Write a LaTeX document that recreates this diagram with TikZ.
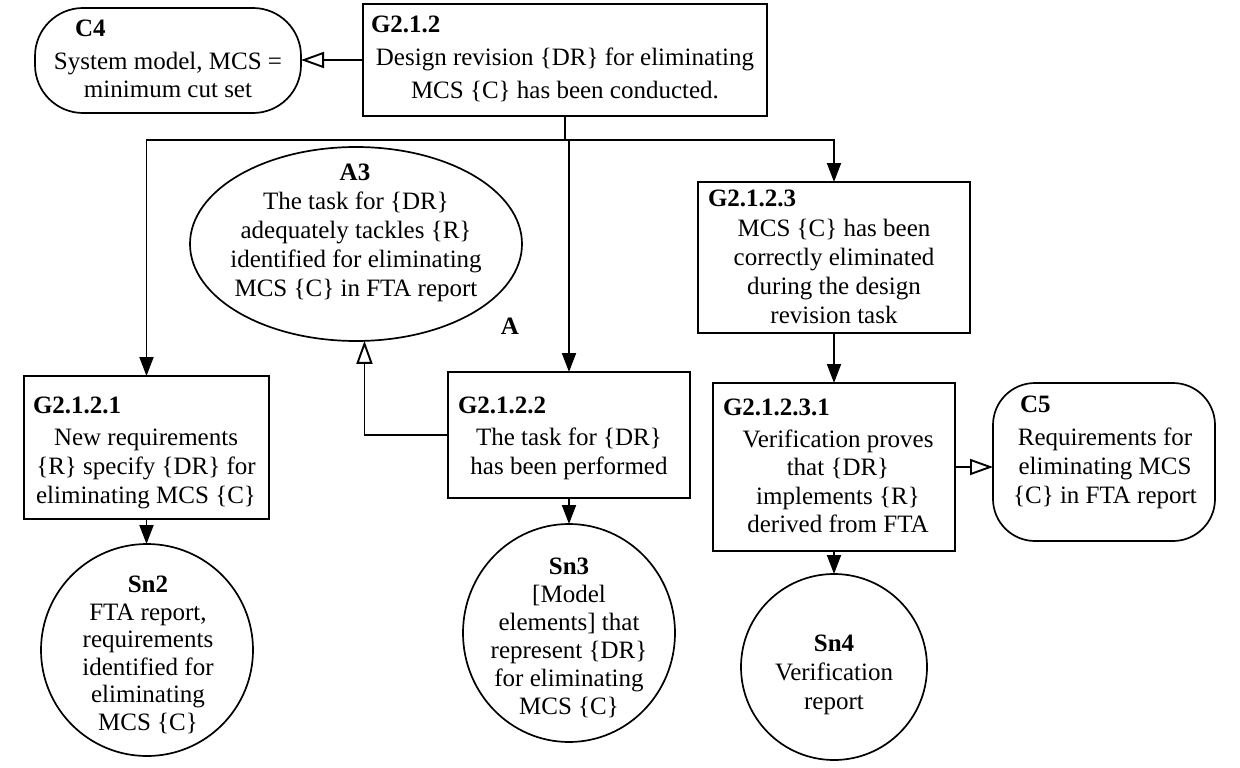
\documentclass[tikz,border=0pt]{standalone}
\usepackage{fontspec}
\setmainfont{Liberation Serif}
\usetikzlibrary{arrows.meta,shapes.geometric}
\newcommand{\ml}[1]{\begin{tabular}[t]{@{}c@{}}#1\end{tabular}}
\begin{document}
\begin{tikzpicture}[x=1pt,y=-1pt,
  every node/.style={inner sep=0pt,outer sep=0pt},
  goal/.style={draw,rectangle,line width=1.7pt,anchor=north west},
  ctx/.style={draw,rectangle,rounded corners=#1,line width=1.7pt,anchor=north west},
  ctx/.default=45pt,
  ell/.style={draw,ellipse,line width=1.7pt},
  lbl/.style={font=\fontsize{25}{29}\selectfont\bfseries,anchor=base west},
  txt/.style={font=\fontsize{25}{29}\selectfont,anchor=base},
  edge/.style={line width=1.9pt},
  arr/.style={edge,-{Triangle[length=19pt,width=14pt]}},
  oarr/.style={edge,-{Triangle[open,length=23pt,width=16pt,line width=1.9pt]}}]
\fill[white] (0,0) rectangle (1240,768);
\useasboundingbox (0,0) rectangle (1240,768);

% C4
\node[ctx=48pt,minimum width=266pt,minimum height=105pt] (c4) at (35,8) {};
\node[lbl] (c4l) at (75,37) {C4};
\node[txt,font=\fontsize{25}{28}\selectfont] (c4t) at (168,70) {\ml{System model, MCS =\\minimum cut set}};

% G2.1.2
\node[goal,minimum width=404pt,minimum height=112pt] (g212) at (363,4) {};
\node[lbl] (g212l) at (371,33) {G2.1.2};
\node[txt,font=\fontsize{25}{33}\selectfont] (g212t) at (565,66) {\ml{Design revision \{DR\} for eliminating\\MCS \{C\} has been conducted.}};

% A3
\node[ell,minimum width=332pt,minimum height=194pt] (a3) at (356,244) {};
\node[lbl,anchor=base] (a3l) at (355,180) {A3};
\node[txt] (a3t) at (356,209) {\ml{The task for \{DR\}\\adequately tackles \{R\}\\identified for eliminating\\MCS \{C\} in FTA report}};
\node[lbl,anchor=base] (aa) at (510,334) {A};

% G2.1.2.1
\node[goal,minimum width=245pt,minimum height=143pt] (g2121) at (24,376) {};
\node[lbl] (g2121l) at (33,413) {G2.1.2.1};
\node[txt] (g2121t) at (146,445) {\ml{New requirements\\\{R\} specify \{DR\} for\\eliminating MCS \{C\}}};

% G2.1.2.2
\node[goal,minimum width=242pt,minimum height=126pt] (g2122) at (448,372) {};
\node[lbl] (g2122l) at (458,413) {G2.1.2.2};
\node[txt] (g2122t) at (569,445) {\ml{The task for \{DR\}\\has been performed}};

% G2.1.2.3
\node[goal,minimum width=272pt,minimum height=151pt] (g2123) at (698,182) {};
\node[lbl] (g2123l) at (708,206) {G2.1.2.3};
\node[txt] (g2123t) at (834,236) {\ml{MCS \{C\} has been\\correctly eliminated\\during the design\\revision task}};

% G2.1.2.3.1
\node[goal,minimum width=242pt,minimum height=168pt] (g21231) at (713,383) {};
\node[lbl] (g21231l) at (723,415) {G2.1.2.3.1};
\node[txt,font=\fontsize{25}{28.5}\selectfont] (g21231t) at (838,447) {\ml{Verification proves\\that \{DR\}\\implements \{R\}\\derived from FTA}};

% C5
\node[ctx=42pt,minimum width=222pt,minimum height=158pt] (c5) at (993,383) {};
\node[lbl] (c5l) at (1020,412) {C5};
\node[txt] (c5t) at (1105,445) {\ml{Requirements for\\eliminating MCS\\\{C\} in FTA report}};

% Sn2
\node[ell,minimum width=212pt,minimum height=212pt] (sn2) at (147,650) {};
\node[lbl,anchor=base] (sn2l) at (148,592) {Sn2};
\node[txt,font=\fontsize{25}{27.5}\selectfont] (sn2t) at (148,620) {\ml{FTA report,\\requirements\\identified for\\eliminating\\MCS \{C\}}};

% Sn3
\node[ell,minimum width=212pt,minimum height=218pt] (sn3) at (569,633) {};
\node[lbl,anchor=base] (sn3l) at (569,574) {Sn3};
\node[txt,font=\fontsize{25}{28}\selectfont] (sn3t) at (569,602) {\ml{[Model\\elements] that\\represent \{DR\}\\for eliminating\\MCS \{C\}}};

% Sn4
\node[ell,minimum width=186pt,minimum height=186pt] (sn4) at (834,667) {};
\node[lbl,anchor=base] (sn4l) at (834,651) {Sn4};
\node[txt] (sn4t) at (834,680) {\ml{Verification\\report}};

% connectors
\coordinate (j) at (565,140);
\draw[edge] (g212.south) -- (j);
\draw[arr] (j) -| (g2121.north);
\draw[arr] (j) -| (g2122.north);
\draw[arr] (j) -| (g2123.north);
\draw[oarr] (g212.west) -- (g212.west -| c4.east);
\draw[oarr] (g2122.west) -| (a3.-85);
\draw[arr] (g2123.south) -- (g21231.north);
\draw[oarr] (g21231.east) -- (g21231.east -| c5.west);
\draw[arr] (g2121.south) -- (g2121.south |- sn2.north);
\draw[arr] (g2122.south) -- (g2122.south |- sn3.north);
\draw[arr] (g21231.south) -- (g21231.south |- sn4.north);
\end{tikzpicture}
\end{document}
